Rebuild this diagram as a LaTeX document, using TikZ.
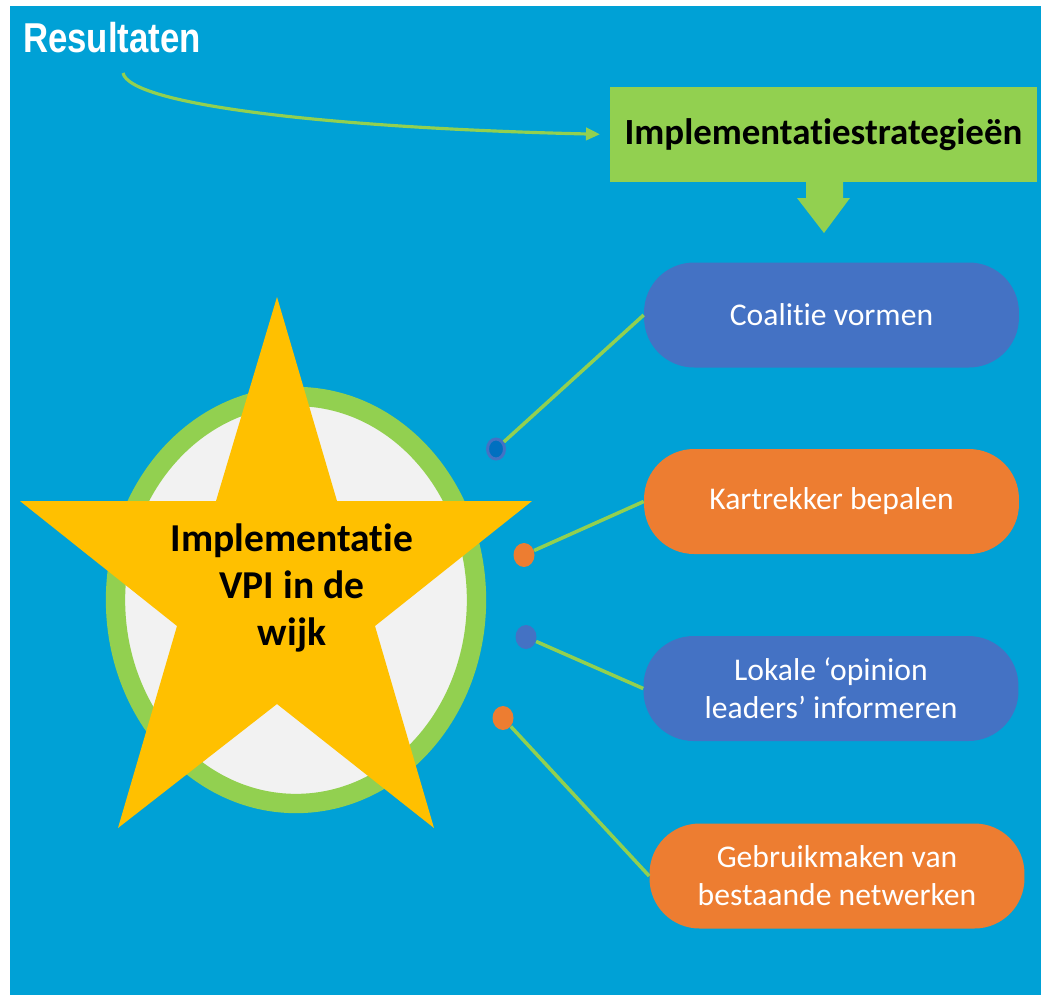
\documentclass[tikz,border=0pt]{standalone}
\usepackage{fontspec}
\setmainfont{Carlito}[RawFeature={-liga;-clig;-dlig;-calt}]
\newfontfamily\headfont{Liberation Sans}
\usetikzlibrary{arrows.meta,shapes.geometric}

\definecolor{bgblue}{HTML}{00A1D6}
\definecolor{leafgreen}{HTML}{92D050}
\definecolor{pillblue}{HTML}{4472C4}
\definecolor{darkblue}{HTML}{0070C0}
\definecolor{pillorange}{HTML}{ED7D31}
\definecolor{stargold}{HTML}{FFC000}
\definecolor{lightgray}{HTML}{F2F2F2}

\begin{document}
\begin{tikzpicture}[x=0.02cm,y=-0.02cm,>={Triangle[length=8pt,width=7pt]}]
  \tikzstyle{pill}=[rectangle,rounded corners=1cm,minimum width=7.5cm,minimum height=2.1cm,text=white,align=center,font=\fontsize{18}{21.5}\selectfont]
  \tikzstyle{dot}=[ellipse,minimum width=0.42cm,minimum height=0.48cm,inner sep=0pt]
  \tikzstyle{link}=[leafgreen,line width=2pt]

  \useasboundingbox (0,0) rectangle (1041,995);
  \fill[bgblue] (10,6) rectangle (1041,995);

  % title and strategy box
  \node (res) at (112,38) {\headfont\bfseries\color{white}\fontsize{22}{24}\selectfont\scalebox{0.9}[1.08]{Resultaten}};
  \node[fill=leafgreen,minimum width=8.54cm,minimum height=1.9cm,font=\bfseries\fontsize{21}{24}\selectfont] (strat) at (823.5,134.5) {Implementatiestrategieën};
  \coordinate (start) at (123,73);
  \draw[->,leafgreen,line width=1.8pt,shorten >=5.5pt] (start) .. controls (130,105) and (330,128) .. (strat.west);
  \fill[leafgreen] (806,182) -- (843,182) -- (843,198) -- (850,198) -- (824,233) -- (797,198) -- (806,198) -- cycle;

  % circle and star
  \draw[leafgreen,line width=11pt,fill=lightgray] (296,600) ellipse [x radius=180.5,y radius=203.5];
  \fill[stargold] (277,297) -- (337,501) -- (532,501) -- (375,626) -- (434,828) -- (277,704)
        -- (118,828) -- (177,626) -- (20,501) -- (216,501) -- cycle;
  \node[align=center,font=\bfseries\fontsize{22.5}{26.6}\selectfont] (goal) at (292,588) {Implementatie\\VPI in de\\wijk};

  % strategies
  \node[pill,fill=pillblue]   (p1) at (831.5,315)   {Coalitie vormen};
  \node[pill,fill=pillorange] (p2) at (831.5,501.5) {Kartrekker bepalen};
  \node[pill,fill=pillblue]   (p3) at (831,688.5)   {Lokale ‘opinion\\leaders’ informeren};
  \node[pill,fill=pillorange] (p4) at (837,876)     {Gebruikmaken van\\bestaande netwerken};

  \node[dot,fill=darkblue,draw=pillblue,line width=1.7pt,minimum width=0.34cm,minimum height=0.4cm] (d1) at (496,449) {};
  \node[dot,fill=pillorange] (d2) at (524,555) {};
  \node[dot,fill=pillblue]   (d3) at (526,637) {};
  \node[dot,fill=pillorange] (d4) at (503,718) {};

  \draw[link] (d1) -- (p1.west);
  \draw[link] (d2) -- (p2.west);
  \draw[link] (d3) -- (p3.west);
  \draw[link] (d4) -- (p4.west);
\end{tikzpicture}
\end{document}
